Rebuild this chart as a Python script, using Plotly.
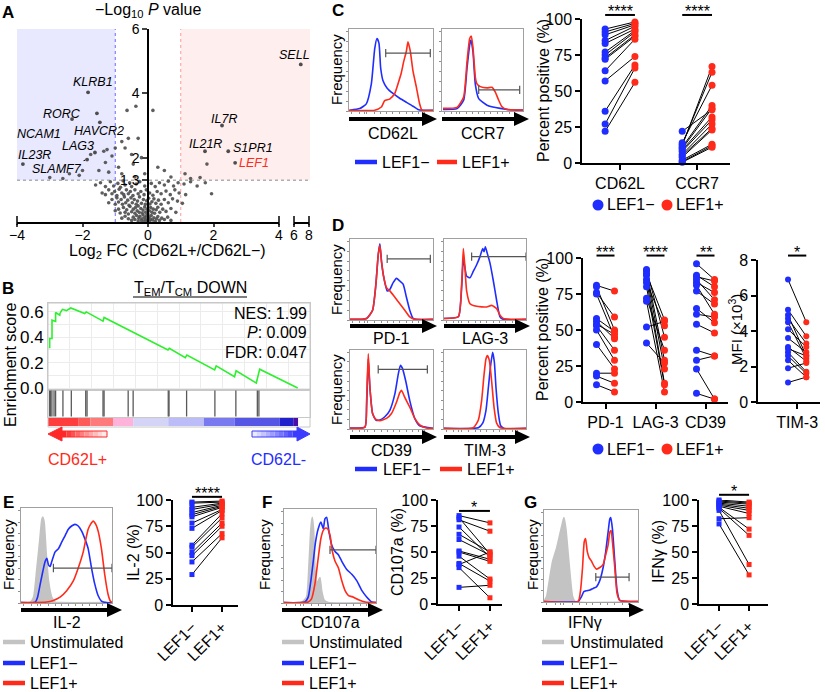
import plotly.graph_objects as go

W, H = 825, 692
FONT = "Liberation Sans, Arial, sans-serif"
BLUE = "#1f2dff"
RED = "#ff2a1a"
UNSTIM = "#c3c3c3"

# ======================= DATA =======================
# ---- A: volcano (log2 FC, -log10 P) ----
vol_x = [-0.6, -0.5, -0.45, -0.4, -0.35, -0.3, -0.28, -0.25, -0.2, -0.18, -0.15, -0.12, -0.1, -0.08, -0.05, -0.02, 0.0, 0.03, 0.05, 0.08, 0.1, 0.14, 0.18, 0.22, 0.26, 0.3, 0.35, 0.42, 0.5, 0.6, -0.7, -0.8, 0.7,
         -1.0, -0.9, -0.85, -0.75, -0.7, -0.65, -0.6, -0.55, -0.5, -0.45, -0.4, -0.38, -0.33, -0.3, -0.27, -0.22, -0.18, -0.15, -0.1, -0.07, -0.03, 0.0, 0.04, 0.08, 0.12, 0.16, 0.2, 0.25, 0.3, 0.36, 0.45, 0.55, 0.7, 0.85,
         -1.2, -1.1, -1.0, -0.95, -0.9, -0.82, -0.78, -0.72, -0.68, -0.62, -0.58, -0.52, -0.48, -0.42, -0.36, -0.32, -0.26, -0.2, -0.14, -0.08, -0.04, 0.02, 0.06, 0.12, 0.18, 0.24, 0.32, 0.4, 0.5, 0.62, 0.75, 0.9, 1.05,
         -1.4, -1.3, -1.2, -1.1, -1.02, -0.95, -0.88, -0.8, -0.74, -0.66, -0.6, -0.54, -0.46, -0.4, -0.3, -0.22, -0.12, -0.05, 0.05, 0.15, 0.28, 0.4, 0.55, 0.68, 0.82, 0.95, 1.15, 1.94,
         -1.6, -1.45, -1.3, -1.15, -1.05, -0.92, -0.84, -0.76, -0.7, -0.56, -0.5, -0.36, -0.25, -0.1, 0.1, 0.22, 0.35, 0.5, 0.62, 0.78, 0.92, 1.1, 1.3, 1.5, 1.75,
         -3.0, -2.6, -2.4, -2.1, -2.0, -1.75, -1.5, -1.35, -1.3, -1.25, -1.2, -1.1, -1.0, -0.9, -0.8, -0.8, -0.7, -0.6, -0.64, -0.5, -0.45, -0.37, -0.4, -0.3, -0.2, -0.1, 0.15, 0.3, 0.5, 0.7, 1.13, 1.3, 1.59, 1.8]
vol_y = [0.1, 0.05, 0.15, 0.08, 0.2, 0.03, 0.12, 0.18, 0.05, 0.1, 0.22, 0.02, 0.14, 0.07, 0.19, 0.04, 0.11, 0.16, 0.03, 0.09, 0.2, 0.06, 0.13, 0.02, 0.1, 0.17, 0.05, 0.12, 0.08, 0.15, 0.18, 0.12, 0.05,
         0.35, 0.4, 0.28, 0.45, 0.3, 0.38, 0.25, 0.48, 0.32, 0.4, 0.27, 0.45, 0.35, 0.5, 0.3, 0.42, 0.28, 0.37, 0.47, 0.3, 0.4, 0.25, 0.35, 0.45, 0.3, 0.4, 0.27, 0.38, 0.46, 0.3, 0.4, 0.33, 0.42, 0.3,
         0.6, 0.7, 0.55, 0.75, 0.62, 0.7, 0.55, 0.78, 0.6, 0.68, 0.52, 0.75, 0.6, 0.7, 0.55, 0.65, 0.78, 0.58, 0.7, 0.55, 0.66, 0.74, 0.56, 0.63, 0.72, 0.58, 0.68, 0.55, 0.7, 0.6, 0.72, 0.65, 0.58,
         0.9, 0.85, 1.0, 0.88, 0.95, 0.82, 1.02, 0.9, 0.85, 1.0, 0.88, 0.95, 0.82, 1.0, 0.88, 0.95, 0.85, 1.0, 0.9, 0.83, 0.95, 0.88, 0.96, 0.85, 1.0, 0.9, 0.85, 0.88,
         1.15, 1.22, 1.1, 1.25, 1.12, 1.2, 1.08, 1.28, 1.15, 1.22, 1.1, 1.18, 1.25, 1.12, 1.2, 1.1, 1.22, 1.15, 1.27, 1.12, 1.22, 1.18, 1.25, 1.12, 1.22,
         1.38, 1.35, 1.5, 1.45, 1.6, 2.1, 1.6, 2.2, 1.85, 2.25, 1.55, 2.05, 2.3, 1.7, 2.5, 1.5, 2.3, 2.6, 3.47, 2.1, 1.8, 3.6, 1.4, 2.6, 2.0, 1.5, 3.47, 1.7, 1.6, 1.4, 1.5, 1.35, 1.38, 1.8]
gene_names = ["SELL", "KLRB1", "RORC", "NCAM1", "HAVCR2", "LAG3", "IL23R", "SLAMF7", "IL7R", "IL21R", "S1PR1", "LEF1"]
gene_x = [6.9, -1.83, -1.56, -2.32, -1.47, -1.62, -3.82, -1.86, 2.26, 1.74, 2.45, 2.66]
gene_y = [4.9, 4.03, 3.38, 3.2, 3.1, 2.16, 1.8, 1.94, 3.0, 2.2, 2.2, 1.84]
p_threshold = 1.3
fc_threshold = 1.0

# ---- B: GSEA ----
es_rank = [0.3, 0.64, 0.64, 1.53, 1.53, 2.3, 2.9, 2.9, 4.5, 4.6, 5.5, 7.0, 8.7, 14.0, 14.6, 21.0, 21.4, 45.8, 46.3, 52.4, 53.0, 63.6, 64.2, 71.2, 71.8, 79.5, 80.1, 80.8, 95.3]
es_score = [0.32, 0.32, 0.39, 0.39, 0.535, 0.53, 0.525, 0.595, 0.575, 0.59, 0.62, 0.61, 0.631, 0.587, 0.60, 0.527, 0.556, 0.30, 0.313, 0.24, 0.26, 0.143, 0.175, 0.09, 0.136, 0.04, 0.09, 0.149, 0.0]
hit_rank = [0.6, 1.0, 1.5, 2.3, 2.9, 5.7, 8.9, 14.4, 14.9, 21.0, 21.4, 30.6, 32.5, 45.9, 46.2, 52.9, 63.7, 71.7, 79.9, 80.5]
rank_edges = [0, 11.5, 16.2, 24.8, 32.5, 45.9, 59.5, 71.3, 88.5, 93.6, 95.5, 100]
rank_colors = ["#ff3d3d", "#ff5a5a", "#ff7a7a", "#ffb3da", "#d4d4f7", "#bcbcf8", "#7a7af0", "#5656e6", "#2020cc", "#4a0fa6", "#ffffff"]
gsea_stats = ["NES: 1.99", "<i>P</i>: 0.009", "FDR: 0.047"]

# ---- C ----
c_markers = ["CD62L", "CCR7"]
cd62l_neg = [93, 91, 89, 85, 83, 77, 75, 73, 72, 64, 57, 36, 27, 22]
cd62l_pos = [98, 97, 96, 95, 93, 92, 91, 89, 88, 86, 74, 68, 66, 56]
ccr7_neg = [12, 13, 14, 11, 10, 22, 9, 8, 6, 5, 4, 2, 1, 0.5]
ccr7_pos = [67, 63, 54, 40, 38, 37, 32, 30, 27, 24, 23, 13, 12, 11]
c_sig = ["****", "****"]

h_cd62l_neg_x = [0.8, 12.7, 20.6, 26.6, 30.6, 33.3, 35.7, 37.7, 40.5, 45.2, 52.4, 60.3, 68.3, 76.2, 82, 88, 100]
h_cd62l_neg_y = [1, 3, 9, 34, 78, 91, 85, 54, 38, 29, 22, 16, 11, 6, 2, 1, 1]
h_cd62l_pos_x = [0, 30.6, 38.5, 42.5, 48.4, 54.4, 58.3, 62.3, 65.1, 68.3, 70.2, 73, 76.2, 80.2, 84.1, 86.9, 100]
h_cd62l_pos_y = [1, 1, 5, 13, 15, 22, 34, 48, 62, 75, 87, 75, 50, 30, 9, 1, 1]
gate_cd62l = [43.7, 96.8, 72.7]
h_ccr7_neg_x = [1.2, 18.5, 26.7, 30.9, 34.2, 35.8, 38.3, 41.2, 45.3, 55.6, 72, 88.5, 100]
h_ccr7_neg_y = [2, 3, 13.5, 54, 83, 89, 74, 33, 15.5, 7.3, 3.3, 1.2, 1.2]
h_ccr7_pos_x = [1.2, 18.5, 26.7, 30.9, 34.2, 36.2, 38.3, 41.2, 43.2, 47.3, 55.6, 61.7, 65.8, 70, 74.1, 80.2, 100]
h_ccr7_pos_y = [3.3, 4.5, 17.5, 62, 91, 94, 79, 42, 34, 30.6, 29, 29.8, 23.7, 13.5, 5.3, 2, 1.2]
gate_ccr7 = [45.3, 95.9, 26.5]

# ---- D ----
d_markers = ["PD-1", "LAG-3", "CD39"]
pd1_neg = [81, 80, 76, 75, 58, 56, 54, 53, 50, 40, 20, 18, 12]
pd1_pos = [77, 50, 59, 45, 49, 44, 47, 36, 29, 23, 20, 13, 7]
lag3_neg = [92, 91, 89, 88, 85, 83, 80, 72, 70, 52, 41]
lag3_pos = [45, 29, 57, 23, 13, 53, 12, 36, 7, 56, 27]
cd39_neg = [96, 88, 87, 85, 83, 81, 77, 65, 61, 54, 36, 29, 23, 6]
cd39_pos = [85, 80, 84, 71, 76, 61, 68, 55, 59, 48, 32, 32, 2, 2]
d_sig = ["***", "****", "**"]
tim3_neg = [6.9, 5.2, 4.9, 4.7, 4.5, 4.1, 3.6, 3.1, 3.0, 2.8, 2.6, 2.35, 1.9, 1.1]
tim3_pos = [4.5, 3.7, 2.6, 3.3, 2.45, 3.1, 2.8, 2.3, 2.6, 1.7, 1.6, 1.4, 2.2, 1.4]
tim3_sig = "*"

h_pd1_neg_x = [0, 20, 27.2, 31.2, 34, 36, 38, 40.8, 44.8, 48, 52, 56, 60, 64, 68, 72, 76, 80, 100]
h_pd1_neg_y = [0.8, 2, 12.4, 45.5, 83, 97, 74, 53.7, 37, 39, 47.5, 52.9, 49.6, 45.5, 28.9, 12.4, 2, 0.8, 0.8]
h_pd1_pos_x = [0, 20, 27.2, 31.2, 34, 36, 38, 40.8, 44, 48, 54, 60, 66, 72, 78, 100]
h_pd1_pos_y = [0.8, 2, 12.4, 45.5, 83, 95, 74, 53.7, 41, 37, 29, 20.7, 12.4, 4, 0.8, 0.8]
gate_pd1 = [44.8, 96.8, 77.7]
h_lag3_neg_x = [0, 17.5, 21.5, 23.6, 25.6, 27.6, 31.7, 35.8, 39.8, 43.9, 47.2, 48.8, 50.4, 52.8, 56.1, 60.2, 64.2, 68.3, 72.4, 100]
h_lag3_neg_y = [2, 4.1, 41.3, 78.5, 66, 55.8, 53.7, 62, 70.2, 80.6, 90.9, 86.8, 93, 84.7, 72.3, 49.6, 24.8, 4.1, 0.8, 0.8]
h_lag3_pos_x = [0, 17.5, 21.5, 23.6, 25.6, 27.6, 31.7, 39.8, 52, 58.1, 64.2, 68.3, 72.4, 100]
h_lag3_pos_y = [2, 4.1, 45.5, 90.9, 66, 37, 20.7, 17.4, 16.5, 18.6, 14.5, 6.2, 2, 0.8]
gate_lag3 = [33.7, 100, 80.6]
h_cd39_neg_x = [0, 18, 20, 22, 24, 27.2, 31.2, 36, 42, 48, 54, 58, 60.8, 63.2, 67.2, 72, 78, 84, 100]
h_cd39_neg_y = [1.3, 2.5, 28.6, 91.6, 53.8, 20.2, 11.8, 11.8, 16, 24.4, 45.4, 70.6, 83.2, 79, 62.2, 37, 13.9, 4.2, 0.8]
h_cd39_pos_x = [0, 18, 20, 22, 24, 27.2, 31.2, 36, 44, 50, 56, 60, 62, 66, 72, 78, 84, 92, 100]
h_cd39_pos_y = [1.3, 2.5, 37, 97.9, 53.8, 20.2, 12.6, 10.9, 13.9, 20.2, 34.9, 47.5, 50.4, 41.2, 28.6, 13.9, 5.5, 1.3, 0.8]
gate_cd39 = [34, 93.2, 77.7]
h_tim3_neg_x = [0, 41.9, 47.2, 51.2, 54.1, 56.9, 59.3, 61.4, 63.4, 66.3, 69.1, 73.2, 100]
h_tim3_neg_y = [0.8, 1.7, 7.6, 24.4, 53.8, 83.2, 100, 87.4, 53.8, 20.2, 4.2, 0.8, 0.8]
h_tim3_pos_x = [0, 35.8, 41.9, 45.9, 48.8, 51.2, 52.8, 55.3, 58.1, 61, 64.2, 68.3, 100]
h_tim3_pos_y = [0.8, 1.7, 11.8, 37, 70.6, 91.6, 95.8, 89.5, 62.2, 28.6, 7.6, 1.7, 0.8]

# ---- E / F / G ----
group_labels = ["LEF1\u2212", "LEF1+"]
il2_neg = [98, 97, 93, 91, 88, 86, 84, 78, 73, 57, 55, 50, 47, 41, 29]
il2_pos = [99, 98, 97, 96, 95, 94, 93, 91, 90, 87, 83, 78, 75, 68, 64]
il2_sig = "****"
cd107a_neg = [85, 83, 81, 74, 67, 62, 51, 50, 46, 39, 38, 35, 16]
cd107a_pos = [78, 48, 70, 45, 50, 47, 43, 41, 24, 22, 50, 6, 18]
cd107a_sig = "*"
ifng_neg = [100, 99, 98, 97, 96, 95, 94, 93, 92, 90, 82, 77]
ifng_pos = [98, 97, 96, 94, 92, 90, 87, 72, 66, 38, 83, 28]
ifng_sig = "*"

h_il2_un_x = [0, 10.2, 13.8, 17.5, 20.4, 22.9, 24, 25.5, 27.6, 30.2, 33.8, 37.5, 43, 100]
h_il2_un_y = [0.4, 1, 6.3, 38, 66, 90.5, 93.3, 87, 55, 24, 6.3, 1, 0.4, 0.4]
h_il2_neg_x = [0, 15.6, 18.2, 21.1, 24, 26.5, 28.4, 30.2, 32, 33.8, 37.5, 41.1, 44.7, 48.4, 52, 55.6, 59.3, 62.9, 66.5, 70.2, 73.8, 77.5, 81.1, 84.7, 88.4, 93.8, 100]
h_il2_neg_y = [0.4, 1, 6.3, 20.4, 34.4, 44.9, 48.4, 41.4, 39.6, 44.9, 55.4, 58.9, 65.9, 72.9, 80, 83.5, 85.3, 83.5, 78.2, 69.5, 58.9, 37.9, 20.4, 8.1, 2.1, 0.4, 0.4]
h_il2_pos_x = [0, 28.4, 35.6, 42.9, 50.2, 57.5, 62.9, 68.4, 71.3, 73.8, 76.4, 79.3, 82.2, 84.7, 88.4, 92, 95.6, 98.2, 100]
h_il2_pos_y = [0.4, 1, 2.8, 6.3, 13.3, 23.9, 37.9, 55.4, 69.5, 80, 85.3, 88.8, 85.3, 78.2, 58.9, 30.9, 9.8, 2.1, 0.4]
gate_il2 = [35.6, 100, 37.9]
h_cd107_un_x = [0, 19, 24.5, 27, 29.2, 30.7, 32.1, 33.6, 35.4, 37.2, 39.1, 40.9, 43.8, 48.2, 100]
h_cd107_un_y = [0.4, 0.7, 6.4, 38.6, 81.4, 93.9, 81.4, 38.6, 20.7, 24.3, 27.9, 13.6, 2.9, 0.4, 0.4]
h_cd107_neg_x = [0, 22.6, 26.3, 29.2, 31.8, 34.3, 37.2, 40.1, 42.7, 44.5, 46.4, 48.9, 51.8, 55.5, 59.1, 62.8, 68.2, 73.7, 79.2, 84.7, 90.1, 95.6, 100]
h_cd107_neg_y = [0.4, 1.1, 6.4, 24.3, 45.7, 67.1, 81.4, 88.6, 81.4, 92.1, 93.9, 77.9, 63.6, 56.4, 52.9, 45.7, 36.8, 31.4, 24.3, 13.6, 6.4, 1.1, 0.4]
h_cd107_pos_x = [0, 26.3, 29.9, 33.6, 37.2, 40.1, 42.7, 45.3, 47.4, 50, 52.6, 55.5, 59.1, 62.8, 66.4, 70.1, 75.5, 81, 88.3, 100]
h_cd107_pos_y = [0.4, 1.1, 4.6, 20.7, 49.3, 70.7, 79.6, 82.1, 81.4, 74.3, 56.4, 45.7, 38.6, 24.3, 13.6, 8.2, 6.4, 3.6, 1.1, 0.4]
gate_cd107 = [50, 100, 58.2]
h_ifng_un_x = [0, 2.8, 5.7, 9.2, 13.4, 16.6, 19.8, 21.2, 23.3, 25.8, 28.3, 30.4, 32.9, 100]
h_ifng_un_y = [0.7, 6.1, 24.2, 45.8, 60.3, 74.7, 89.2, 94.6, 81.9, 53.1, 24.2, 6.1, 0.7, 0.4]
h_ifng_neg_x = [0, 36.4, 39.9, 42.4, 45.2, 48.8, 52.3, 55.8, 59.4, 62.9, 65.7, 68.2, 70, 71, 72.8, 75.3, 77.7, 80.6, 100]
h_ifng_neg_y = [0.4, 0.7, 6.1, 11.6, 12.6, 13.4, 15.2, 17, 24.2, 38.6, 56.7, 78.3, 92.8, 94.6, 81.9, 45.8, 13.4, 1.8, 0.4]
h_ifng_pos_x = [0, 36.4, 38.9, 41, 42.8, 44.2, 46, 48.1, 50.5, 53, 55.8, 59.4, 62.9, 65.7, 68.2, 70, 71.4, 72.8, 75.3, 77.7, 80.6, 100]
h_ifng_pos_y = [0.4, 0.7, 13.4, 38.6, 67.5, 71.1, 56.7, 49.5, 45.8, 40.4, 36.8, 38.6, 42.2, 53.1, 63.9, 78.3, 80.1, 67.5, 38.6, 9.7, 1.8, 0.4]
gate_ifng = [55.1, 90.5, 27.8]

# ======================= FIGURE =======================
layout = dict(width=W, height=H, autosize=False, margin=dict(l=0, r=0, t=0, b=0, pad=0),
              paper_bgcolor="white", plot_bgcolor="white", showlegend=False, template="none",
              font=dict(family=FONT, size=14, color="black"))
traces, shapes, annots = [], [], []


def XD(a, b):
    return [a / W, b / W]


def YD(top, bottom):
    return [1 - bottom / H, 1 - top / H]


def PX(x):
    return x / W


def PY(y):
    return 1 - y / H


AX_BASE = dict(showgrid=False, zeroline=False, showline=False, ticks="", showticklabels=False)


def axis_pair(n, xbox, ybox, xr, yr, xkw=None, ykw=None):
    xk, yk = ("xaxis", "yaxis") if n == 1 else (f"xaxis{n}", f"yaxis{n}")
    xid, yid = ("x", "y") if n == 1 else (f"x{n}", f"y{n}")
    xa = dict(AX_BASE, domain=XD(*xbox), range=xr, anchor=yid)
    ya = dict(AX_BASE, domain=YD(*ybox), range=yr, anchor=xid)
    if xkw:
        xa.update(xkw)
    if ykw:
        ya.update(ykw)
    layout[xk] = xa
    layout[yk] = ya
    return xid, yid


def xmap(box, rng, v):
    return box[0] + (v - rng[0]) / (rng[1] - rng[0]) * (box[1] - box[0])


def ymap(box, rng, v):
    return box[1] - (v - rng[0]) / (rng[1] - rng[0]) * (box[1] - box[0])


def label(px, py, s, size=16, color="black", xanchor="center", yanchor="middle", angle=0, bold=False):
    if bold:
        s = f"<b>{s}</b>"
    annots.append(dict(x=PX(px), y=PY(py), xref="paper", yref="paper", text=s, showarrow=False,
                       font=dict(family=FONT, size=size, color=color), xanchor=xanchor,
                       yanchor=yanchor, textangle=angle))


def flow_arrow(x0, x1, y, head=15, half=7, thick=4):
    shapes.append(dict(type="rect", xref="paper", yref="paper", x0=PX(x0), x1=PX(x1 - head + 1),
                       y0=PY(y + thick / 2), y1=PY(y - thick / 2), fillcolor="black", line=dict(width=0)))
    shapes.append(dict(type="path", xref="paper", yref="paper",
                       path=f"M{PX(x1 - head)},{PY(y - half)} L{PX(x1)},{PY(y)} L{PX(x1 - head)},{PY(y + half)} Z",
                       fillcolor="black", line=dict(width=0)))


def legend_line(x0, x1, y, color, text, tx, size=16):
    shapes.append(dict(type="line", xref="paper", yref="paper", x0=PX(x0), x1=PX(x1), y0=PY(y), y1=PY(y),
                       line=dict(color=color, width=4.5)))
    label(tx, y, text, size=size, xanchor="left")


def legend_dot(cx, y, color, text, size=16):
    r = 5.5
    shapes.append(dict(type="circle", xref="paper", yref="paper", x0=PX(cx - r), x1=PX(cx + r),
                       y0=PY(y + r), y1=PY(y - r), fillcolor=color, line=dict(width=0)))
    label(cx + r + 1, y, text, size=size, xanchor="left")


HIST_AX = dict(showline=True, mirror=True, linecolor="#a0a0a0", linewidth=1, ticks="outside", ticklen=2,
               tickcolor="#909090", tickwidth=1)


def histogram(n, xbox, ybox, curves, gate=None):
    xid, yid = axis_pair(n, xbox, ybox, [0, 100], [0, 103],
                         xkw=dict(HIST_AX, tickvals=[3, 12, 18, 21, 30, 38, 45, 52, 60, 68, 75, 83, 90]),
                         ykw=dict(HIST_AX, dtick=12.5))
    for xs, ys, color, filled in curves:
        traces.append(go.Scatter(x=xs, y=ys, xaxis=xid, yaxis=yid, mode="lines",
                                 line=dict(color=color, width=1.6, shape="spline", smoothing=0.5),
                                 fill="tozeroy" if filled else "none", fillcolor=color, hoverinfo="skip"))
    if gate:
        g0, g1, gy = gate
        traces.append(go.Scatter(x=[g0, g1], y=[gy, gy], xaxis=xid, yaxis=yid, mode="lines+markers",
                                 line=dict(color="#555555", width=1.2),
                                 marker=dict(symbol="line-ns-open", size=6, line=dict(color="#555555", width=1.2)),
                                 cliponaxis=False, hoverinfo="skip"))


DOT_AX = dict(showline=True, linecolor="black", linewidth=1.5, ticks="outside", ticklen=5, tickwidth=1.5,
              tickcolor="black", showticklabels=True, tickfont=dict(family=FONT, size=16))


def dotplot(n, xbox, ybox, xr, yr, groups, offset, yticks, tickvals, ticktext, symbol, msize,
            sig_level, tickangle=0):
    xid, yid = axis_pair(n, xbox, ybox, xr, yr,
                         xkw=dict(DOT_AX, tickvals=tickvals, ticktext=ticktext, tickangle=tickangle),
                         ykw=dict(DOT_AX, tickvals=yticks))
    lx, ly, bx, by, rx, ry = [], [], [], [], [], []
    for c, neg, pos, sig in groups:
        for a, p in zip(neg, pos):
            lx += [c - offset, c + offset, None]
            ly += [a, p, None]
        bx += [c - offset] * len(neg)
        by += list(neg)
        rx += [c + offset] * len(pos)
        ry += list(pos)
        bar_py = ymap(ybox, yr, sig_level)
        shapes.append(dict(type="line", xref=xid, yref="paper", x0=c - offset, x1=c + offset,
                           y0=PY(bar_py), y1=PY(bar_py), line=dict(color="black", width=2)))
        annots.append(dict(x=c, y=PY(bar_py - 3), xref=xid, yref="paper", text=sig, showarrow=False,
                           font=dict(family=FONT, size=16), xanchor="center", yanchor="middle"))
    traces.append(go.Scatter(x=lx, y=ly, xaxis=xid, yaxis=yid, mode="lines",
                             line=dict(color="black", width=1), hoverinfo="skip"))
    traces.append(go.Scatter(x=bx, y=by, xaxis=xid, yaxis=yid, mode="markers", cliponaxis=False,
                             marker=dict(symbol=symbol, size=msize, color=BLUE, line=dict(width=0))))
    traces.append(go.Scatter(x=rx, y=ry, xaxis=xid, yaxis=yid, mode="markers", cliponaxis=False,
                             marker=dict(symbol=symbol, size=msize, color=RED, line=dict(width=0))))


# ---------------- Panel A ----------------
A_X, A_X2, A_Y = (17, 279), (294, 309), (29, 222)
xa_rng, xb_rng, ya_rng = [-4, 4], [6, 8], [0, 6]
axis_pair(1, A_X, A_Y, xa_rng, ya_rng,
          xkw=dict(showline=True, linecolor="black", linewidth=1.5, ticks="outside", ticklen=3, tickwidth=1.5,
                   tickvals=[-4, -2, 0, 2, 4], showticklabels=True, tickfont=dict(size=14),
                   ticklabelstandoff=-4),
          ykw=dict(anchor="free", position=xmap(A_X, xa_rng, 0) / W, showline=True, linecolor="black",
                   linewidth=1.5, ticks="outside", ticklen=5, tickwidth=1.5, tickvals=[1.3, 2, 4, 6],
                   ticktext=["1.3", "2", "4", "6"], showticklabels=True, tickfont=dict(size=14)))
layout["xaxis2"] = dict(AX_BASE, domain=XD(*A_X2), range=xb_rng, anchor="y", showline=True, linecolor="black",
                        linewidth=1.5, ticks="outside", ticklen=3, tickwidth=1.5, tickvals=[6, 8],
                        showticklabels=True, tickfont=dict(size=14), ticklabelstandoff=-4)
axis_caps_px = [xmap(A_X, xa_rng, xa_rng[0]), xmap(A_X, xa_rng, xa_rng[1]),
                xmap(A_X2, xb_rng, xb_rng[0]), xmap(A_X2, xb_rng, xb_rng[1])]
for cx in axis_caps_px:
    shapes.append(dict(type="line", xref="paper", yref="paper", x0=PX(cx), x1=PX(cx), y0=PY(A_Y[1] - 6),
                       y1=PY(A_Y[1] + 3), line=dict(color="black", width=1.5)))

left_edge = A_X[0]
thr_px = xmap(A_X, xa_rng, fc_threshold)
shapes.append(dict(type="rect", xref="x", yref="y", x0=xa_rng[0], x1=-fc_threshold, y0=p_threshold, y1=ya_rng[1],
                   fillcolor="rgba(120,120,255,0.17)", line=dict(width=0), layer="below"))
shapes.append(dict(type="rect", xref="paper", yref="y", x0=PX(thr_px), x1=PX(A_X2[1] + 1), y0=p_threshold,
                   y1=ya_rng[1], fillcolor="rgba(255,120,120,0.13)", line=dict(width=0), layer="below"))
shapes.append(dict(type="line", xref="x", yref="y", x0=-fc_threshold, x1=-fc_threshold, y0=0, y1=ya_rng[1],
                   line=dict(color="#6b6bff", width=1, dash="dot"), layer="below"))
shapes.append(dict(type="line", xref="x", yref="y", x0=fc_threshold, x1=fc_threshold, y0=0, y1=ya_rng[1],
                   line=dict(color="#ff9a9a", width=1, dash="dot"), layer="below"))
shapes.append(dict(type="line", xref="paper", yref="y", x0=PX(left_edge), x1=PX(A_X2[1] + 1), y0=p_threshold,
                   y1=p_threshold, line=dict(color="#8a8a8a", width=1, dash="dot"), layer="below"))

traces.append(go.Scatter(x=vol_x, y=vol_y, xaxis="x", yaxis="y", mode="markers", cliponaxis=False,
                         marker=dict(size=3.6, color="#4d4d4d", opacity=0.9)))
main_gx = [x for x in gene_x if x <= xa_rng[1]]
main_gy = [y for x, y in zip(gene_x, gene_y) if x <= xa_rng[1]]
brk_gx = [x for x in gene_x if x > xa_rng[1]]
brk_gy = [y for x, y in zip(gene_x, gene_y) if x > xa_rng[1]]
traces.append(go.Scatter(x=main_gx, y=main_gy, xaxis="x", yaxis="y", mode="markers", cliponaxis=False,
                         marker=dict(size=3.8, color="#4d4d4d")))
traces.append(go.Scatter(x=brk_gx, y=brk_gy, xaxis="x2", yaxis="y", mode="markers", cliponaxis=False,
                         marker=dict(size=3.8, color="#4d4d4d")))

label_shift = {"SELL": (-6, 9), "KLRB1": (5, 10), "RORC": (-35, -1), "NCAM1": (-33, -15), "HAVCR2": (-1, -9),
               "LAG3": (-17, 7), "IL23R": (12, 9), "SLAMF7": (-30, -9), "IL7R": (2, 7), "IL21R": (1, 7),
               "S1PR1": (25, 3), "LEF1": (19, 0)}
for name, gx, gy in zip(gene_names, gene_x, gene_y):
    dx, dy = label_shift[name]
    xref = "x2" if gx > xa_rng[1] else "x"
    col = RED if name == "LEF1" else "black"
    if name == "SLAMF7":
        annots.append(dict(x=gx, y=gy, xref=xref, yref="y", text=f"<i>{name}</i>", showarrow=True, arrowhead=0,
                           arrowwidth=1, arrowcolor="black", ax=dx, ay=-dy, standoff=2,
                           font=dict(family=FONT, size=12.5, color=col)))
    else:
        annots.append(dict(x=gx, y=gy, xref=xref, yref="y", text=f"<i>{name}</i>", showarrow=False,
                           xshift=dx, yshift=dy, font=dict(family=FONT, size=12.5, color=col)))

label(148, 11, "\u2212Log<sub>10</sub> <i>P</i> value", size=16)
label(167, 251, "Log<sub>2</sub> FC (CD62L+/CD62L\u2212)", size=16)

# ---------------- Panel B ----------------
B_X, B_Y, B_RUG = (48, 310), (303, 390), (390, 417)
es_rng = [-0.015, 0.67]
axis_pair(3, B_X, B_Y, [0, 100], es_rng,
          xkw=dict(showline=True, mirror=True, linecolor="#c8c8c8", linewidth=1, showgrid=True,
                   gridcolor="#ececec", tickmode="linear", tick0=0, dtick=100 / 12),
          ykw=dict(showline=True, mirror=True, linecolor="#c8c8c8", linewidth=1, showgrid=True,
                   gridcolor="#ececec", tickvals=[0, 0.2, 0.4, 0.6],
                   ticktext=["0.0", "0.2", "0.4", "0.6"], showticklabels=True,
                   minor=dict(tickmode="linear", tick0=0, dtick=0.1, showgrid=True, gridcolor="#ececec"),
                   tickfont=dict(size=17)))
axis_pair(4, B_X, B_RUG, [0, 100], [0, 1],
          xkw=dict(showline=True, mirror=True, linecolor="#c8c8c8", linewidth=1),
          ykw=dict(showline=True, mirror=True, linecolor="#c8c8c8", linewidth=1))
traces.append(go.Scatter(x=es_rank, y=es_score, xaxis="x3", yaxis="y3", mode="lines",
                         line=dict(color="#2cf02c", width=1.6), cliponaxis=False))
rx_, ry_ = [], []
for r in hit_rank:
    rx_ += [r, r, None]
    ry_ += [0.02, 0.98, None]
traces.append(go.Scatter(x=rx_, y=ry_, xaxis="x4", yaxis="y4", mode="lines",
                         line=dict(color="#5a5a5a", width=1.3)))
for i, col in enumerate(rank_colors):
    shapes.append(dict(type="rect", xref="x4", yref="paper", x0=rank_edges[i], x1=rank_edges[i + 1],
                       y0=PY(426), y1=PY(418), fillcolor=col, line=dict(width=0)))
shapes.append(dict(type="rect", xref="paper", yref="paper", x0=PX(B_X[0]), x1=PX(B_X[1]), y0=PY(427),
                   y1=PY(B_Y[0]), line=dict(color="#c8c8c8", width=1)))
for i, s in enumerate(gsea_stats):
    label(309, 313 + i * 19.5, s, size=16, xanchor="right")
label(190, 288, "T<sub>EM</sub>/T<sub>CM</sub> DOWN", size=16)
shapes.append(dict(type="line", xref="paper", yref="paper", x0=PX(133), x1=PX(247), y0=PY(297), y1=PY(297),
                   line=dict(color="black", width=1.2)))
label(10, 365, "Enrichment score", size=16, angle=-90)


def grad_arrow(tip, base, tail, y, color_rgb, head_left):
    half, thick, nseg = 7, 6, 10
    x_a, x_b = (base, tail) if head_left else (tail, base)
    for k in range(nseg):
        f0 = k / nseg
        xs0 = x_a + (x_b - x_a) * f0
        xs1 = x_a + (x_b - x_a) * (k + 1) / nseg
        t = f0 if head_left else 1 - f0 - 1 / nseg
        cr = [int(c + (255 - c) * t) for c in color_rgb]
        shapes.append(dict(type="rect", xref="paper", yref="paper", x0=PX(xs0), x1=PX(xs1),
                           y0=PY(y + thick / 2), y1=PY(y - thick / 2), fillcolor=f"rgb({cr[0]},{cr[1]},{cr[2]})",
                           line=dict(width=0)))
    col = f"rgb({color_rgb[0]},{color_rgb[1]},{color_rgb[2]})"
    shapes.append(dict(type="rect", xref="paper", yref="paper", x0=PX(min(x_a, x_b)), x1=PX(max(x_a, x_b)),
                       y0=PY(y + thick / 2), y1=PY(y - thick / 2), line=dict(color=col, width=1)))
    shapes.append(dict(type="path", xref="paper", yref="paper",
                       path=f"M{PX(base)},{PY(y - half)} L{PX(tip)},{PY(y)} L{PX(base)},{PY(y + half)} Z",
                       fillcolor=col, line=dict(color=col, width=1)))


grad_arrow(48, 62, 107, 434, (255, 40, 40), True)
grad_arrow(310, 297, 252, 434, (60, 60, 255), False)
label(77, 460, "CD62L+", size=16, color=RED)
label(278, 460, "CD62L-", size=16, color=BLUE)

# ---------------- Panel C ----------------
histogram(5, (349, 433), (29, 111), [(h_cd62l_neg_x, h_cd62l_neg_y, BLUE, False),
                                     (h_cd62l_pos_x, h_cd62l_pos_y, RED, False)], gate_cd62l)
histogram(6, (442, 523), (29, 111), [(h_ccr7_neg_x, h_ccr7_neg_y, BLUE, False),
                                     (h_ccr7_pos_x, h_ccr7_pos_y, RED, False)], gate_ccr7)
flow_arrow(349, 437, 119)
flow_arrow(442, 529, 119)
label(393, 133, "CD62L")
label(483, 133, "CCR7")
label(336, 70, "Frequency", size=15, angle=-90)
legend_line(355, 377, 162, BLUE, "LEF1\u2212", 380)
legend_line(437, 457, 162, RED, "LEF1+", 460)

C_XR = [-0.74, 2.14]
dotplot(7, (582, 730), (19, 163), C_XR, [0, 100],
        [(0, cd62l_neg, cd62l_pos, c_sig[0]), (1.5, ccr7_neg, ccr7_pos, c_sig[1])], 0.29,
        [0, 25, 50, 75, 100], [0, 1.5], c_markers, "circle", 7, 102.8)
label(543, 91, "Percent positive (%)", size=16, angle=-90)
legend_dot(598, 205, BLUE, "LEF1\u2212")
legend_dot(667, 205, RED, "LEF1+")

# ---------------- Panel D ----------------
histogram(8, (350, 433), (239, 320), [(h_pd1_neg_x, h_pd1_neg_y, BLUE, False),
                                      (h_pd1_pos_x, h_pd1_pos_y, RED, False)], gate_pd1)
histogram(9, (444, 526), (239, 320), [(h_lag3_neg_x, h_lag3_neg_y, BLUE, False),
                                      (h_lag3_pos_x, h_lag3_pos_y, RED, False)], gate_lag3)
histogram(10, (350, 433), (350, 429), [(h_cd39_neg_x, h_cd39_neg_y, BLUE, False),
                                       (h_cd39_pos_x, h_cd39_pos_y, RED, False)], gate_cd39)
histogram(11, (444, 526), (350, 429), [(h_tim3_neg_x, h_tim3_neg_y, BLUE, False),
                                       (h_tim3_pos_x, h_tim3_pos_y, RED, False)])
flow_arrow(350, 437, 326)
flow_arrow(444, 530, 326)
flow_arrow(350, 437, 437)
flow_arrow(444, 530, 437)
label(391, 338, "PD-1")
label(485, 338, "LAG-3")
label(391, 450, "CD39")
label(485, 450, "TIM-3")
label(336, 280, "Frequency", size=15, angle=-90)
label(336, 390, "Frequency", size=15, angle=-90)
legend_line(355, 377, 469, BLUE, "LEF1\u2212", 381)
legend_line(440, 462, 469, RED, "LEF1+", 465)

dotplot(12, (583, 728), (258, 402), [-0.45, 2.45], [0, 100],
        [(0, pd1_neg, pd1_pos, d_sig[0]), (1, lag3_neg, lag3_pos, d_sig[1]), (2, cd39_neg, cd39_pos, d_sig[2])],
        0.18, [0, 25, 50, 75, 100], [0, 1, 2], d_markers, "circle", 7, 101.7)
dotplot(13, (758, 820), (260, 402), [-0.6, 0.35], [0, 8], [(0, tim3_neg, tim3_pos, tim3_sig)], 0.14,
        [0, 2, 4, 6, 8], [0], ["TIM-3"], "circle", 6, 8.25)
label(542, 330, "Percent positive (%)", size=16, angle=-90)
label(735, 330, "MFI (\u00d710<sup>3</sup>)", size=15, angle=-90)
legend_dot(598, 449, BLUE, "LEF1\u2212")
legend_dot(667, 449, RED, "LEF1+")

# ---------------- Panels E / F / G ----------------
histogram(14, (21, 112), (508, 603), [(h_il2_un_x, h_il2_un_y, UNSTIM, True),
                                      (h_il2_neg_x, h_il2_neg_y, BLUE, False),
                                      (h_il2_pos_x, h_il2_pos_y, RED, False)], gate_il2)
histogram(16, (284, 376), (509, 603), [(h_cd107_un_x, h_cd107_un_y, UNSTIM, True),
                                       (h_cd107_neg_x, h_cd107_neg_y, BLUE, False),
                                       (h_cd107_pos_x, h_cd107_pos_y, RED, False)], gate_cd107)
histogram(18, (544, 638), (510, 602), [(h_ifng_un_x, h_ifng_un_y, UNSTIM, True),
                                       (h_ifng_neg_x, h_ifng_neg_y, BLUE, False),
                                       (h_ifng_pos_x, h_ifng_pos_y, RED, False)], gate_ifng)
flow_arrow(21, 122, 610)
flow_arrow(282, 383, 610)
flow_arrow(542, 644, 610)
label(67, 622, "IL-2")
label(330, 622, "CD107a")
label(585, 622, "IFN\u03b3")
label(8, 555, "Frequency", size=15, angle=-90)
label(264, 555, "Frequency", size=15, angle=-90)
label(532, 555, "Frequency", size=15, angle=-90)
for lx0, tx in [(3, 28), (282, 307), (542, 568)]:
    legend_line(lx0, lx0 + 22, 642, UNSTIM, "Unstimulated", tx)
    legend_line(lx0, lx0 + 22, 663, BLUE, "LEF1\u2212", tx)
    legend_line(lx0, lx0 + 22, 683, RED, "LEF1+", tx)

dotplot(15, (173, 238), (500, 605), [-0.63, 1.53], [0, 100], [(0.5, il2_neg, il2_pos, il2_sig)], 0.5,
        [0, 25, 50, 75, 100], [0, 1], group_labels, "square", 5, 103, tickangle=-45)
dotplot(17, (438, 502), (500, 604), [-0.68, 1.39], [0, 100], [(0.5, cd107a_neg, cd107a_pos, cd107a_sig)], 0.5,
        [0, 25, 50, 75, 100], [0, 1], group_labels, "square", 5, 89.5, tickangle=-45)
dotplot(19, (699, 768), (500, 604), [-0.667, 1.63], [0, 100], [(0.5, ifng_neg, ifng_pos, ifng_sig)], 0.5,
        [0, 25, 50, 75, 100], [0, 1], group_labels, "square", 5, 105, tickangle=-45)
label(133, 553, "IL-2 (%)", size=16, angle=-90)
label(397, 552, "CD107a (%)", size=16, angle=-90)
label(658, 552, "IFN\u03b3 (%)", size=16, angle=-90)

# ---------------- panel letters ----------------
for letter, lx_, ly_ in [("A", 8, 12), ("B", 8, 288), ("C", 338, 10), ("D", 338, 225),
                         ("E", 8, 502), ("F", 267, 502), ("G", 530, 502)]:
    label(lx_, ly_, letter, size=17, bold=True)

layout["shapes"] = shapes
layout["annotations"] = annots
fig = go.Figure(data=traces, layout=layout)
fig.write_html("out.html", config={"displayModeBar": False},
               post_script="document.body.style.margin='0';document.body.style.padding='0';")
